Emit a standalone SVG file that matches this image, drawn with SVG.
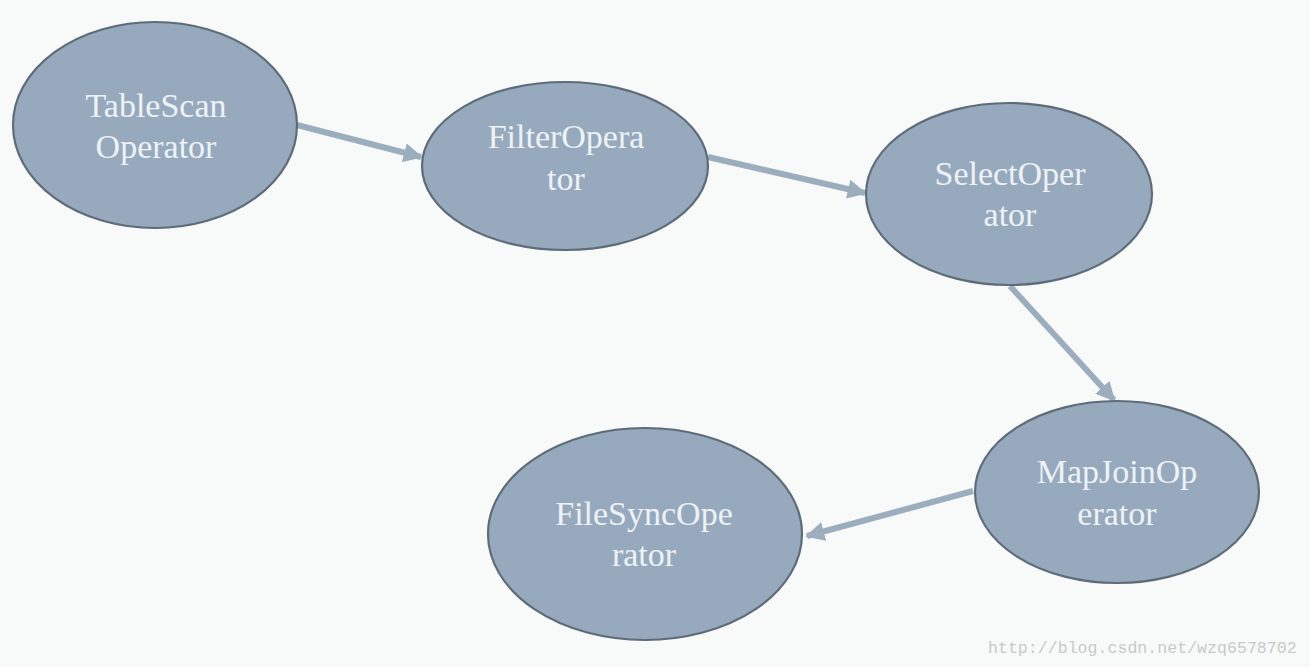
<svg xmlns="http://www.w3.org/2000/svg" width="1310" height="667" viewBox="0 0 1310 667">
<style>
.node ellipse{fill:#97aabd;stroke:#5e6b78;stroke-width:2.2}
.node text{font-family:'Liberation Serif','DejaVu Serif','Times New Roman',serif;font-size:34px;fill:#eef2f6;text-anchor:middle}
.edge{stroke:#9cadbe;stroke-width:6;fill:none;marker-end:url(#ah)}
.wm{font-family:'Liberation Mono','DejaVu Sans Mono',monospace;font-size:16.6px;fill:#c9c9c9}
</style>
<defs>
<marker id="ah" viewBox="0 0 10 10" refX="9" refY="5" markerWidth="3.2" markerHeight="3.2" orient="auto" markerUnits="strokeWidth">
<path d="M0,0 L10,5 L0,10 z" fill="#9cadbe"/>
</marker>
</defs>
<rect width="1310" height="667" fill="#f8f9f9"/>
<g id="connectors">
<line class="edge" x1="297" y1="125" x2="421" y2="157"/>
<line class="edge" x1="708" y1="157" x2="865" y2="193"/>
<line class="edge" x1="1010" y1="286" x2="1114" y2="400"/>
<line class="edge" x1="973" y1="491" x2="807" y2="536"/>
</g>
<g id="TableScanOperator" class="node">
<ellipse cx="155" cy="125" rx="142" ry="103"/>
<text x="156" y="117" font-family="Liberation Serif, serif">TableScan</text>
<text x="156" y="158" font-family="Liberation Serif, serif">Operator</text>
</g>
<g id="FilterOperator" class="node">
<ellipse cx="565" cy="166" rx="143" ry="84"/>
<text x="566" y="148">FilterOpera</text>
<text x="566" y="190">tor</text>
</g>
<g id="SelectOperator" class="node">
<ellipse cx="1009" cy="194" rx="143" ry="91"/>
<text x="1010" y="185">SelectOper</text>
<text x="1010" y="226">ator</text>
</g>
<g id="MapJoinOperator" class="node">
<ellipse cx="1117" cy="492" rx="142" ry="91"/>
<text x="1117" y="483">MapJoinOp</text>
<text x="1117" y="525">erator</text>
</g>
<g id="FileSyncOperator" class="node">
<ellipse cx="645" cy="534" rx="157" ry="106"/>
<text x="644" y="525">FileSyncOpe</text>
<text x="644" y="566">rator</text>
</g>
<text class="wm" x="988" y="653">http://blog.csdn.net/wzq6578702</text>
</svg>
